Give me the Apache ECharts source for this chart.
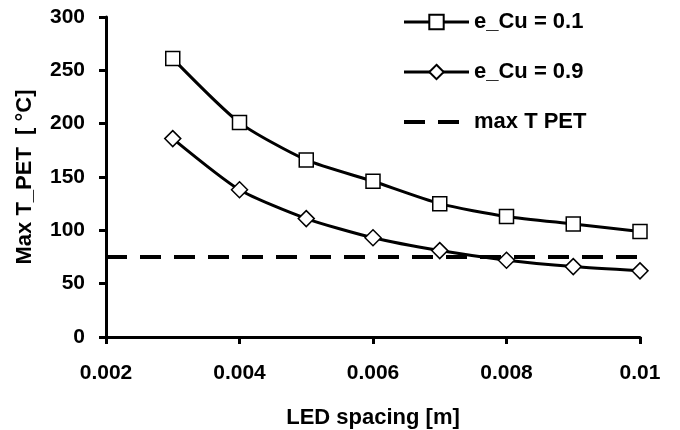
<!DOCTYPE html>
<html>
<head>
<meta charset="utf-8">
<script src="https://cdn.jsdelivr.net/npm/echarts@6/dist/echarts.min.js"></script>
<style>html,body{margin:0;padding:0;background:#fff}#c{width:680px;height:430px}</style>
</head>
<body>
<div id="c"></div>
<script>
const spacing = [0.003, 0.004, 0.005, 0.006, 0.007, 0.008, 0.009, 0.01];
const cu01 = [261, 201, 166, 146, 125, 113, 106, 99];
const cu09 = [186, 138, 111, 93, 81, 72, 66, 62];
const maxTPET = 75;
const limitX = [0.002, 0.01013];
const seriesNames = ['e_Cu = 0.1', 'e_Cu = 0.9', 'max T PET'];
const xTitle = 'LED spacing [m]';
const yTitle = 'Max T_PET  [ \u00B0C]';

const FONT = "'Liberation Sans', Arial, sans-serif";
const chart = echarts.init(document.getElementById('c'), null, {renderer: 'canvas'});
const pair = (xs, ys) => xs.map((x, i) => [x, ys[i]]);

chart.setOption({
  animation: false,
  backgroundColor: '#fff',
  grid: {left: 106, right: 40, top: 17, bottom: 93, containLabel: false, outerBoundsMode: 'none'},
  legend: {
    orient: 'vertical', left: 402, top: 11, padding: 0,
    itemWidth: 65, itemHeight: 18, itemGap: 28,
    lineStyle: {width: 3, color: '#000'},
    data: [
      {name: seriesNames[0]},
      {name: seriesNames[1]},
      {name: seriesNames[2], itemStyle: {opacity: 0}, lineStyle: {width: 4, type: [21, 13], color: '#000'}}
    ],
    textStyle: {fontFamily: FONT, fontWeight: 'bold', fontSize: 22, color: '#000', lineHeight: 22},
    inactiveColor: '#000'
  },
  xAxis: {
    type: 'value', min: 0.002, max: 0.01, interval: 0.002,
    name: xTitle, nameLocation: 'middle', nameGap: 70,
    nameTextStyle: {fontFamily: FONT, fontWeight: 'bold', fontSize: 22, color: '#000'},
    axisLine: {lineStyle: {color: '#000', width: 3}},
    axisTick: {show: true, inside: false, length: 7, lineStyle: {color: '#000', width: 3}},
    axisLabel: {fontFamily: FONT, fontWeight: 'bold', fontSize: 21, color: '#000', margin: 26,
      formatter: v => String(parseFloat(v.toFixed(4)))},
    splitLine: {show: false}
  },
  yAxis: {
    type: 'value', min: 0, max: 300, interval: 50,
    name: yTitle, nameLocation: 'middle', nameGap: 70, nameRotate: 90,
    nameTextStyle: {fontFamily: FONT, fontWeight: 'bold', fontSize: 22, color: '#000'},
    axisLine: {show: true, lineStyle: {color: '#000', width: 3}},
    axisTick: {show: true, inside: false, length: 7, lineStyle: {color: '#000', width: 3}},
    axisLabel: {fontFamily: FONT, fontWeight: 'bold', fontSize: 21, color: '#000', margin: 21},
    splitLine: {show: false}
  },
  series: [
    {
      name: seriesNames[0], type: 'line', data: pair(spacing, cu01), smooth: 0.22,
      symbol: 'rect', symbolSize: 14,
      lineStyle: {color: '#000', width: 3},
      itemStyle: {color: '#fff', borderColor: '#000', borderWidth: 1.5},
      z: 3
    },
    {
      name: seriesNames[1], type: 'line', data: pair(spacing, cu09), smooth: 0.22,
      symbol: 'diamond', symbolSize: 16,
      lineStyle: {color: '#000', width: 3},
      itemStyle: {color: '#fff', borderColor: '#000', borderWidth: 1.5},
      z: 3
    },
    {
      name: seriesNames[2], type: 'line', data: limitX.map(x => [x, maxTPET]),
      symbol: 'none', clip: false,
      lineStyle: {color: '#000', width: 4, type: [21, 13]},
      itemStyle: {color: '#000'},
      z: 2
    }
  ]
});
</script>
</body>
</html>
